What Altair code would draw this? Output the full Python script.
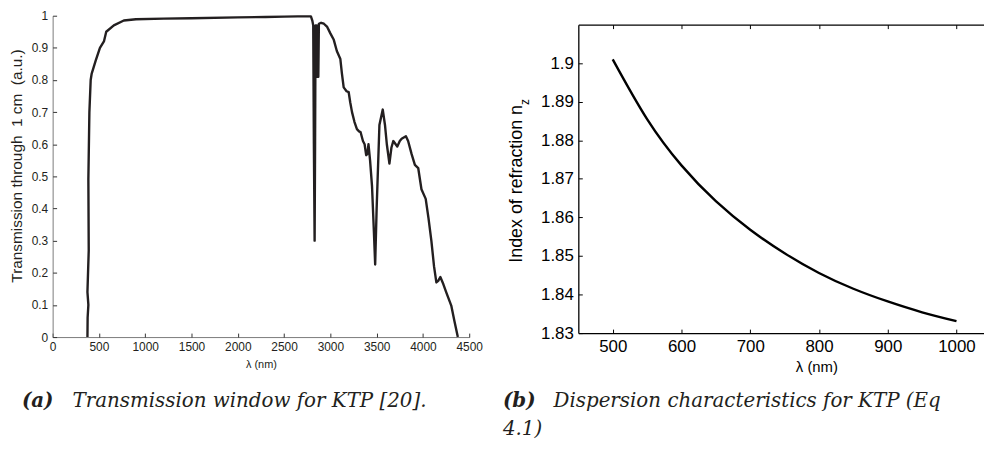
import altair as alt
import pandas as pd

# ---------------- data ----------------
# (a) transmission window of KTP
lam_a = [376, 378, 386, 376, 390, 386, 397, 411, 422, 465, 511, 554, 579, 661, 769,
         900, 1200, 1500, 2000, 2300, 2500, 2650, 2790, 2805, 2815, 2822, 2830, 2835,
         2840, 2846, 2852, 2858, 2864, 2870, 2876, 2900, 2930, 2966, 3000, 3037, 3070,
         3108, 3125, 3144, 3175, 3198, 3215, 3234, 3260, 3287, 3310, 3326, 3352, 3370,
         3387, 3400, 3412, 3429, 3450, 3470, 3484, 3500, 3530, 3566, 3590, 3610, 3638,
         3660, 3680, 3723, 3750, 3770, 3816, 3840, 3877, 3913, 3949, 3984, 4030, 4060,
         4091, 4120, 4145, 4165, 4188, 4220, 4252, 4306, 4340, 4377]
trans_a = [0.0, 0.06, 0.10, 0.14, 0.27, 0.49, 0.70, 0.80, 0.82, 0.86, 0.90, 0.92, 0.95, 0.97, 0.985,
           0.989, 0.991, 0.992, 0.995, 0.996, 0.997, 0.998, 0.998, 0.985, 0.97, 0.60, 0.30, 0.60,
           0.97, 0.82, 0.97, 0.81, 0.97, 0.81, 0.975, 0.978, 0.975, 0.965, 0.945, 0.925, 0.89,
           0.865, 0.82, 0.777, 0.765, 0.762, 0.73, 0.70, 0.67, 0.647, 0.64, 0.638, 0.61, 0.60,
           0.566, 0.57, 0.60, 0.55, 0.47, 0.33, 0.226, 0.40, 0.66, 0.708, 0.66, 0.60, 0.54,
           0.59, 0.61, 0.593, 0.61, 0.617, 0.625, 0.61, 0.57, 0.536, 0.526, 0.46, 0.43, 0.37,
           0.30, 0.22, 0.17, 0.175, 0.187, 0.165, 0.139, 0.098, 0.05, 0.0]

# (b) dispersion n_z of KTP
lam_b = [500, 550, 600, 650, 700, 750, 800, 850, 900, 950, 1000]
n_b = [1.901, 1.8855, 1.8735, 1.8642, 1.8568, 1.8507, 1.8456, 1.8415, 1.8382, 1.8354, 1.8331]

xt_a = [0, 500, 1000, 1500, 2000, 2500, 3000, 3500, 4000, 4500]
yt_a = [0, 0.1, 0.2, 0.3, 0.4, 0.5, 0.6, 0.7, 0.8, 0.9, 1]
xt_b = [500, 600, 700, 800, 900, 1000]
yt_b = [1.83, 1.84, 1.85, 1.86, 1.87, 1.88, 1.89, 1.9]

ytitle_a = "Transmission through\u00a0\u00a01 cm\u00a0\u00a0(a.u.)"
ytitle_b = "Index of refraction n"
ytitle_b_sub = "z"
xtitle = "λ (nm)"
cap_a = ["(a)", "Transmission window for KTP [20]."]
cap_b = ["(b)", "Dispersion characteristics for KTP (Eq", "4.1)"]

# ---------------- styling ----------------
W1, H1 = 420, 324
W2, H2, TOP2 = 409, 320, 9
INK = "#231f20"
SANS = "Liberation Sans"
SERIF = "DejaVu Serif"

dfa = pd.DataFrame({"lam": lam_a, "T": trans_a, "i": range(len(lam_a))})
dfb = pd.DataFrame({"lam": lam_b, "n": n_b})


def tick_axis(orient, offset, values, color, domain=False, dcolor=None, dwidth=1):
    kw = dict(orient=orient, offset=offset, values=values, labels=False, ticks=True,
              tickSize=4, tickColor=color, tickWidth=1, domain=domain, grid=False, title=None)
    if domain:
        kw.update(domainColor=dcolor, domainWidth=dwidth)
    return alt.Axis(**kw)


def text_layer(txt, x, y, size, font=SERIF, style="italic", weight="normal",
               align="left", angle=0, color=INK):
    df = pd.DataFrame({"t": [txt]})
    return alt.Chart(df).mark_text(
        font=font, fontSize=size, fontStyle=style, fontWeight=weight,
        align=align, baseline="middle", angle=angle, color=color
    ).encode(x=alt.value(x), y=alt.value(y), text="t:N")


# ---------------- panel (a) ----------------
xs_a = alt.Scale(domain=[0, 4500], nice=False, zero=False)
ys_a = alt.Scale(domain=[0, 1], nice=False)

a_main = alt.Chart(dfa).mark_line(color=INK, strokeWidth=2.4, strokeJoin="round").encode(
    x=alt.X("lam:Q", scale=xs_a, axis=alt.Axis(
        orient="bottom", values=xt_a, format="d", tickSize=0, labelPadding=5,
        labelFlush=False, labelOverlap=False,
        labelFont=SANS, labelFontSize=12, labelColor=INK, domainColor="#7a7a7a",
        domainWidth=1, grid=False, title=xtitle, titleFont=SANS, titleFontSize=11,
        titleFontWeight="normal", titleColor=INK, titlePadding=6)),
    y=alt.Y("T:Q", scale=ys_a, axis=alt.Axis(
        orient="left", values=yt_a, format="~g", tickSize=0, labelPadding=5,
        labelFlush=False, labelOverlap=False,
        labelFont=SANS, labelFontSize=12, labelColor=INK, domainColor="#7a7a7a",
        domainWidth=1, grid=False, title=ytitle_a, titleFont=SANS, titleFontSize=15.5,
        titleFontWeight="normal", titleColor=INK, titleAngle=270, titleAlign="center",
        titleBaseline="middle", titleX=-36, titleY=151)),
    order="i:Q",
)
a_ticks = alt.Chart(dfa).mark_line(opacity=0).encode(
    x=alt.X("lam:Q", scale=xs_a, axis=tick_axis("top", -H1, xt_a, "#333")),
    y=alt.Y("T:Q", scale=ys_a, axis=tick_axis("right", -W1, yt_a, "#333")),
)
panel_a = alt.layer(
    a_main, a_ticks,
    text_layer(cap_a[0], -31, 388, 20, weight="bold"),
    text_layer(cap_a[1], 20, 388, 20),
).resolve_axis(x="independent", y="independent").properties(width=W1, height=H1)

# ---------------- panel (b) ----------------
xs_b = alt.Scale(domain=[450, 1040], nice=False, zero=False)
ys_b = alt.Scale(domain=[1.83, 1.91], nice=False, zero=False, range=[H2, TOP2])

b_main = alt.Chart(dfb).mark_line(color="black", strokeWidth=2.4, interpolate="natural").encode(
    x=alt.X("lam:Q", scale=xs_b, axis=alt.Axis(
        orient="bottom", values=xt_b, format="d", tickSize=0, labelPadding=6,
        labelFlush=False, labelOverlap=False,
        labelFont=SANS, labelFontSize=17, labelColor="black", domainColor="black",
        domainWidth=1.3, grid=False, title=xtitle, titleFont=SANS, titleFontSize=15,
        titleFontWeight="normal", titleColor="black", titleX=240, titleY=34,
        titleBaseline="middle", titleAlign="center")),
    y=alt.Y("n:Q", scale=ys_b, axis=alt.Axis(
        orient="left", values=yt_b, format="~g", tickSize=0, labelPadding=5,
        labelFlush=False, labelOverlap=False,
        labelFont=SANS, labelFontSize=17, labelColor="black", domainColor="black",
        domainWidth=1.3, grid=False, title=None)),
)
b_ticks = alt.Chart(dfb).mark_line(opacity=0).encode(
    x=alt.X("lam:Q", scale=xs_b, axis=tick_axis("top", -H2, xt_b, "black")),
    y=alt.Y("n:Q", scale=ys_b, axis=tick_axis("right", -W2, yt_b, "black")),
)
b_top = alt.Chart(dfb).mark_line(opacity=0).encode(
    x=alt.X("lam:Q", scale=xs_b, axis=tick_axis("bottom", -(H2 - TOP2), xt_b, "black",
                                                  domain=True, dcolor="black", dwidth=1.3)),
    y=alt.Y("n:Q", scale=ys_b, axis=None),
)

panel_b = alt.layer(
    b_main, b_ticks, b_top,
    text_layer(ytitle_b, -62, 90, 18, font=SANS, style="normal", align="right",
               angle=270, color="black"),
    text_layer(ytitle_b_sub, -54, 90, 12, font=SANS, style="normal", align="left",
               angle=270, color="black"),
    text_layer(cap_b[0], -76, 388, 20, weight="bold"),
    text_layer(cap_b[1], -25, 388, 20),
    text_layer(cap_b[2], -76, 417, 20),
).resolve_axis(x="independent", y="independent").properties(width=W2, height=H2)

chart = alt.hconcat(panel_a, panel_b, spacing=20).configure_view(stroke=None).properties(
    padding={"left": 1, "top": 0, "right": 0, "bottom": 0}, background="white"
)

chart.save("out.html", embed_options={"renderer": "svg", "actions": False})
